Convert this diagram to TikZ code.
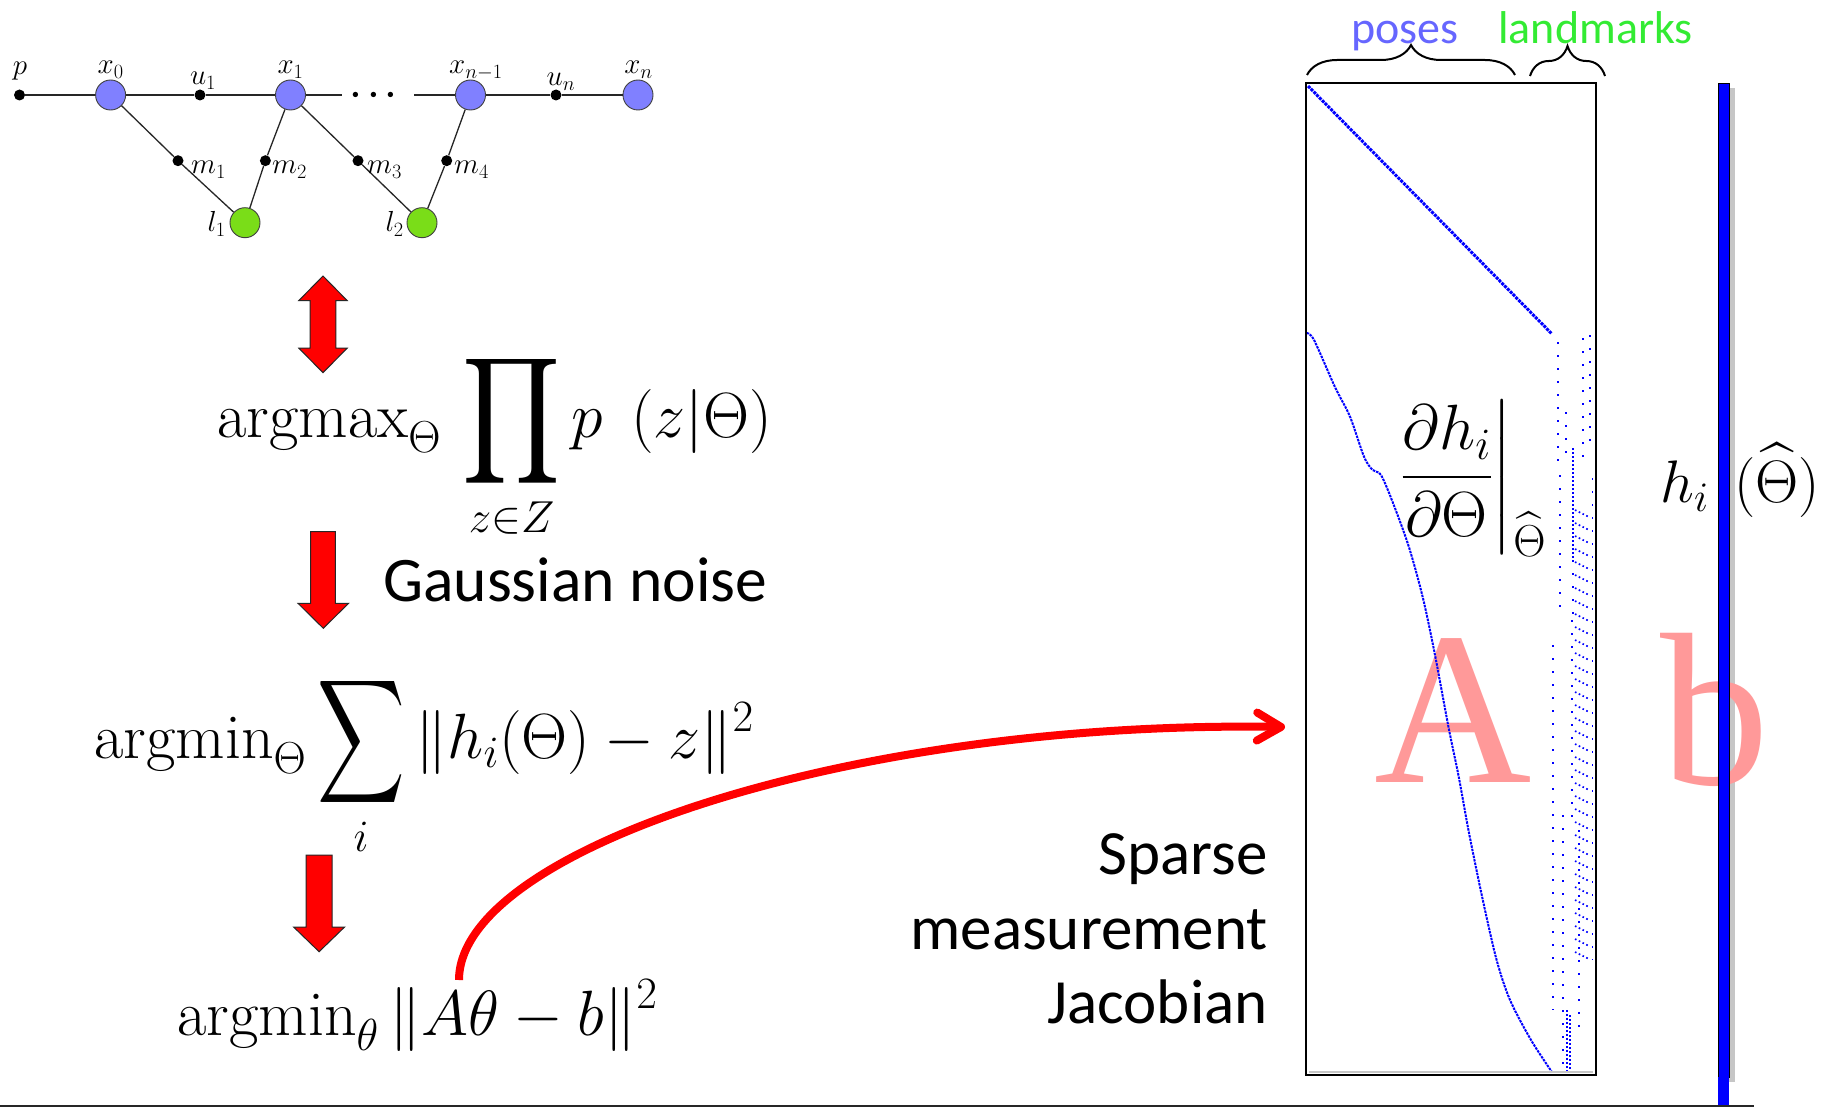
\RequirePackage{fix-cm}
\documentclass[tikz,border=0pt]{standalone}
\usepackage{amsmath}
\usepackage{exscale}
\DeclareFontShape{OMX}{cmex}{m}{n}{<->cmex10}{}
\usepackage{graphicx}
\usepackage{fontspec}
\newfontfamily\calibri{Carlito}
\newfontfamily\timesf{Liberation Serif}
\usetikzlibrary{arrows.meta,decorations.pathreplacing}
\definecolor{poseblue}{RGB}{128,128,255}
\definecolor{lmgreen}{RGB}{122,221,24}
\definecolor{posetxt}{RGB}{102,102,255}
\definecolor{lmtxt}{RGB}{51,235,51}
\definecolor{pinkA}{RGB}{255,153,153}
\newcommand{\mfs}{\fontsize{64}{77}\selectfont}
\newcommand{\myprod}{\mathop{\vcenter{\hbox{\scalebox{1.2}[1.38]{$\displaystyle\prod$}}}}\limits}
\newcommand{\mysum}{\mathop{\vcenter{\hbox{\scalebox{0.95}[1.35]{$\displaystyle\sum$}}}}\limits}
\begin{document}
\begin{tikzpicture}[x=1pt,y=-1pt,
  pose/.style={circle,draw=black!75,line width=0.9pt,fill=poseblue,minimum size=30pt,inner sep=0pt},
  lmk/.style={circle,draw=black!75,line width=0.9pt,fill=lmgreen,minimum size=30pt,inner sep=0pt},
  fac/.style={circle,fill=black,minimum size=11pt,inner sep=0pt},
  glab/.style={inner sep=0pt,anchor=base,font=\fontsize{29}{34}\selectfont},
  gedge/.style={line width=1.6pt,black!85},
  dedge/.style={line width=1.3pt,black!85},
  blockarrow/.style={fill=red,draw=black!85,line width=1pt,line join=miter},
  formula/.style={anchor=base west,inner sep=0pt,font=\mfs},
  cal/.style={inner sep=0pt,font=\calibri\fontsize{63}{75}\selectfont},
  bracestyle/.style={decorate,decoration={brace,amplitude=30pt},line width=2pt},
  dotcol/.style={blue,line width=1.6pt,dash pattern=on 1.6pt off 11.4pt},
  densecol/.style={blue,line width=1.6pt,dash pattern=on 1.6pt off 2.4pt},
  streak/.style={blue,line width=1.6pt,dash pattern=on 1.6pt off 2.6pt},
  bigletter/.style={inner sep=0pt,anchor=base,text=pinkA,font=\timesf\fontsize{218}{240}\selectfont}
]
\useasboundingbox (0,0) rectangle (1830,1107);
\fill[white] (0,0) rectangle (1830,1107);

% ---------- factor graph ----------
\node[fac] (p) at (19.5,95) {};
\node[pose] (x0) at (110.6,95) {};
\node[fac] (u1) at (200,95) {};
\node[pose] (x1) at (290.5,95) {};
\node[pose] (xn1) at (470.5,95) {};
\node[fac] (un) at (556,95) {};
\node[pose] (xn) at (638,95) {};
\node[fac] (m1) at (178,160.7) {};
\node[fac] (m2) at (265.4,160.7) {};
\node[fac] (m3) at (358,160.7) {};
\node[fac] (m4) at (446.7,160.7) {};
\node[lmk] (l1) at (245,222.7) {};
\node[lmk] (l2) at (422,222.7) {};
\coordinate (g1) at (342,95);
\coordinate (g2) at (414,95);
\node[inner sep=0pt,anchor=base,font=\fontsize{34}{40}\selectfont] (dots) at (377,103.5) {$\boldsymbol{\cdots}$};

\draw[gedge] (p) -- (x0) -- (u1) -- (x1) -- (g1);
\draw[gedge] (g2) -- (xn1) -- (un) -- (xn);
\draw[dedge] (x0) -- (m1) -- (l1);
\draw[dedge] (x1) -- (m2) -- (l1);
\draw[dedge] (x1) -- (m3) -- (l2);
\draw[dedge] (xn1) -- (m4) -- (l2);

\node[glab] (lp) at (20,75) {$p$};
\node[glab] (lx0) at (110.6,74) {$x_0$};
\node[glab] (lu1) at (203,85) {$u_1$};
\node[glab] (lx1) at (290.5,74) {$x_1$};
\node[glab] (lxn1) at (476,74) {$x_{n-1}$};
\node[glab] (lun) at (561,86) {$u_n$};
\node[glab] (lxn) at (638.5,74) {$x_n$};
\node[glab,anchor=base west] (lm1) at (191,174) {$m_1$};
\node[glab,anchor=base west] (lm2) at (272,174) {$m_2$};
\node[glab,anchor=base west] (lm3) at (367,174) {$m_3$};
\node[glab,anchor=base west] (lm4) at (454,174) {$m_4$};
\node[glab,anchor=base east] (ll1) at (226,232) {$l_1$};
\node[glab,anchor=base east] (ll2) at (404,232) {$l_2$};

% ---------- block arrows ----------
\draw[blockarrow] (323,276) -- (347.3,300.7) -- (335.8,300.7) -- (335.8,348) -- (347.3,348) -- (323,372.7) -- (298.7,348) -- (310.2,348) -- (310.2,300.7) -- (298.7,300.7) -- cycle;
\draw[blockarrow] (310.5,531.7) -- (335.3,531.7) -- (335.3,603.3) -- (348.6,603.3) -- (323.3,628.3) -- (298,603.3) -- (310.5,603.3) -- cycle;
\draw[blockarrow] (306,855) -- (332,855) -- (332,927) -- (344.6,927) -- (319.1,951.7) -- (293.6,927) -- (306,927) -- cycle;

% ---------- formulas ----------
\node[formula] (f1) at (217,437) {$\displaystyle\mathrm{argmax}_{\Theta}\,\myprod_{\raisebox{0pt}[22pt][\depth]{$\scriptstyle z\in Z$}}p\;\,(z|\Theta)$};
\node[formula,font=\calibri\fontsize{63.5}{75}\selectfont] (gn) at (383,601) {Gaussian noise};
\node[formula] (f2) at (94,758) {$\displaystyle\mathrm{argmin}_{\Theta}\mysum_{\raisebox{0pt}[15pt][\depth]{$\scriptstyle i$}}\|h_i(\Theta)-z\|^2$};
\node[formula] (f3) at (177,1035) {$\displaystyle\mathrm{argmin}_{\theta}\,\|A\theta-b\|^2$};

\node[cal,anchor=base east] (sp1) at (1268,874) {Sparse};
\node[cal,anchor=base east] (sp2) at (1268,949) {measurement};
\node[cal,anchor=base east] (sp3) at (1268,1023) {Jacobian};

% ---------- big letters ----------
\fill[gray!45] (1729,88) rectangle (1735,1082);
\node[bigletter] (bigA) at (1453.5,782) {A};
\node[bigletter] (bigb) at (1715,784) {b};

% ---------- matrix ----------
\draw[blue,line width=3pt,dash pattern=on 3pt off 1pt] (1308,86) -- (1552,334);
\draw[blue,line width=2pt,dash pattern=on 2.5pt off 1pt] plot[smooth] coordinates {(1306.5,333) (1314,340) (1334.8,386.7) (1350,416.7) (1364,456.7) (1372.6,470) (1381,475) (1393,503) (1408.8,546.7) (1422.6,596.7) (1434.6,653) (1448.4,726.7) (1458.7,776.7) (1469,833) (1482.8,900) (1496.6,960) (1510,1000) (1531,1040) (1551.7,1071.7)};
\draw[dotcol] (1558,342) -- (1558,467);
\draw[dotcol] (1566,412) -- (1566,462);
\draw[dotcol] (1583,338) -- (1583,458);
\draw[dotcol] (1590,335) -- (1590,445);
\draw[dotcol] (1560,475) -- (1560,612);
\draw[densecol] (1573,448) -- (1573,560);
\draw[dotcol] (1573,560) -- (1573,620);
\draw[dotcol] (1592.5,478) -- (1592.5,960);
\draw[dotcol] (1553,645) -- (1553,1010);
\draw[dotcol] (1563,815) -- (1563,1070);
\draw[densecol] (1567,1010) -- (1567,1072);
\draw[densecol] (1570,1015) -- (1570,1072);
\draw[dotcol] (1572,620) -- (1572,822);
\draw[dotcol] (1579,830) -- (1579,1033);
\foreach \yy in {510,523,...,955} {
  \draw[streak] (1575,\yy) -- (1589,\yy+7);
}
\draw[gray!45,line width=2pt] (1309,1071.5) -- (1593,1071.5);
\draw[line width=2.5pt] (1306,83) rectangle (1596,1075);

\node[formula] (jac) at (1400,493) {$\displaystyle\left.\frac{\partial h_i}{\partial\Theta}\right|_{\widehat{\Theta}}$};

% braces and labels
\draw[bracestyle] (1307,75) -- (1515,75);
\draw[bracestyle] (1530,76) -- (1605,76);
\node[inner sep=0pt,anchor=base,font=\calibri\fontsize{46}{55}\selectfont,text=posetxt] (poses) at (1405,44) {poses};
\node[inner sep=0pt,anchor=base,font=\calibri\fontsize{46}{55}\selectfont,text=lmtxt] (lmks) at (1595.5,44) {landmarks};

% ---------- vector b ----------
\draw[fill=blue,line width=0.8pt] (1718,83) rectangle (1729,1077);
\fill[blue] (1718,1077) rectangle (1729,1107);
\node[formula,font=\fontsize{60}{72}\selectfont] (hi) at (1660,502) {$h_i\hspace{26pt}(\widehat{\Theta})$};

% bottom rule
\draw[line width=2pt,black!85] (0,1105.5) -- (1754,1105.5);

% ---------- red curved connector ----------
\coordinate (cs) at (459,980);
\coordinate (ce) at (1285,727);
\draw[red,line width=8pt,-{Straight Barb[length=24pt,width=28pt,round]}] (cs) .. controls (459,850) and (850,720) .. (ce);
\end{tikzpicture}
\end{document}
